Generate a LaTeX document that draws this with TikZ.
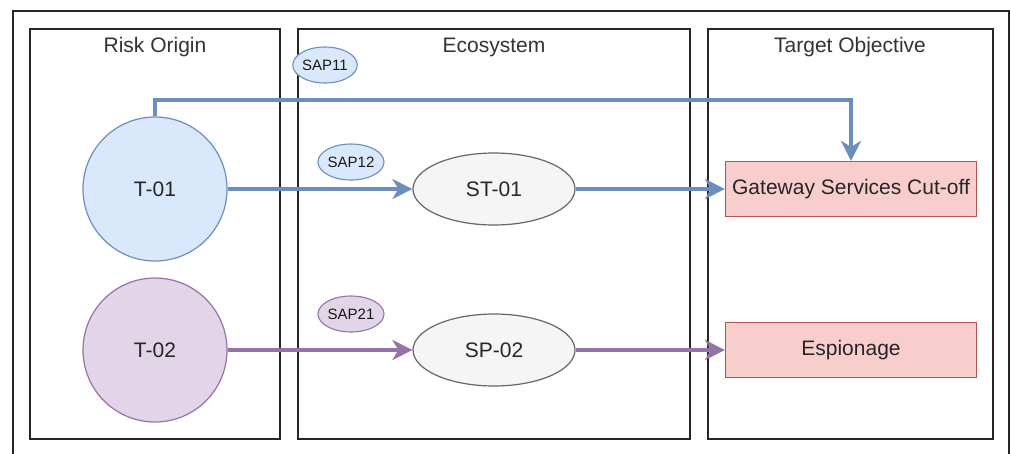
\documentclass[tikz,border=0pt]{standalone}
\usepackage{fontspec}
\setmainfont{Liberation Sans}
\usetikzlibrary{shapes.geometric,arrows.meta}

\definecolor{blueFill}{HTML}{DAE8FC}
\definecolor{blueLine}{HTML}{6C8EBF}
\definecolor{purpleFill}{HTML}{E1D5E7}
\definecolor{purpleLine}{HTML}{9673A6}
\definecolor{greyFill}{HTML}{F5F5F5}
\definecolor{greyLine}{HTML}{666666}
\definecolor{redFill}{HTML}{F8CECC}
\definecolor{redLine}{HTML}{B85450}
\definecolor{titleText}{HTML}{333333}

\tikzset{
  lane/.style={draw=black!85, line width=1.5pt},
  lanetitle/.style={font=\fontsize{21}{24}\selectfont, text=titleText, anchor=center},
  threat/.style={circle, minimum size=144pt, inner sep=0pt, line width=1.2pt,
    font=\fontsize{21}{24}\selectfont, text=black!85},
  source/.style={ellipse, minimum width=162pt, minimum height=72pt, inner sep=0pt,
    fill=greyFill, draw=greyLine, line width=1.2pt, font=\fontsize{21}{24}\selectfont,
    text=black!85},
  sap/.style={ellipse, minimum width=55pt, minimum height=36pt, inner sep=0pt,
    line width=1.1pt, font=\fontsize{15}{16}\selectfont, text=black!90},
  goal/.style={rectangle, minimum width=251pt, minimum height=55pt, inner sep=0pt,
    fill=redFill, draw=redLine, line width=1.2pt, font=\fontsize{21}{24}\selectfont,
    text=black!85},
  flow/.style={line width=3.2pt, -{Stealth[length=20pt, width=20pt, inset=6pt]}},
}

\begin{document}
\begin{tikzpicture}[x=1pt, y=-1pt]
  \useasboundingbox (0,0) rectangle (1011,453);
  \fill[white] (0,0) rectangle (1011,453);

  % outer frame (runs past the lower edge)
  \draw[black!85, line width=2pt] (13,470) -- (13,11) -- (1009,11) -- (1009,470);

  % swimlanes
  \draw[lane] (30,29) rectangle (280,439);
  \draw[lane] (298,29) rectangle (690,439);
  \draw[lane] (708,29) rectangle (993,439);
  \node[lanetitle] (tRisk) at (155,47) {Risk Origin};
  \node[lanetitle] (tEco) at (494,47) {Ecosystem};
  \node[lanetitle] (tTarget) at (850,47) {Target Objective};

  % risk origins
  \node[threat, fill=blueFill, draw=blueLine] (t01) at (155,189) {T-01};
  \node[threat, fill=purpleFill, draw=purpleLine] (t02) at (155,350) {T-02};

  % ecosystem stakeholders
  \node[source] (st01) at (494,189) {ST-01};
  \node[source] (sp02) at (494,350) {SP-02};

  % strategic attack paths
  \node[sap, fill=blueFill, draw=blueLine] (sap11) at (325,65) {SAP11};
  \node[sap, fill=blueFill, draw=blueLine] (sap12) at (351,162) {SAP12};
  \node[sap, fill=purpleFill, draw=purpleLine] (sap21) at (351,314) {SAP21};

  % target objectives
  \node[goal] (gw) at (851,189) {Gateway Services Cut-off};
  \node[goal] (esp) at (851,350) {Espionage};

  % connectors
  \draw[flow, blueLine] (t01.north) |- (851,100) -- (gw.north);
  \draw[flow, blueLine] (t01.east) -- (st01.west);
  \draw[flow, blueLine] (st01.east) -- (gw.west);
  \draw[flow, purpleLine] (t02.east) -- (sp02.west);
  \draw[flow, purpleLine] (sp02.east) -- (esp.west);
\end{tikzpicture}
\end{document}
